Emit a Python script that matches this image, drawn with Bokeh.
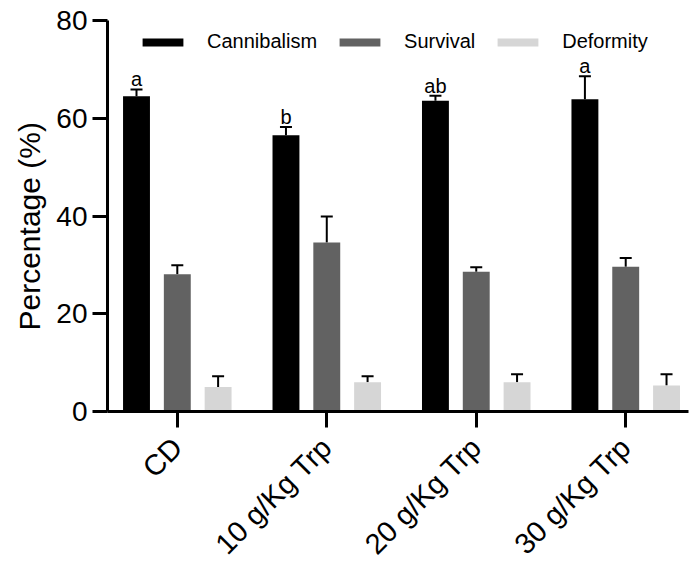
import math
from bokeh.plotting import figure
from bokeh.models import (ColumnDataSource, Range1d, FixedTicker, Whisker, TeeHead,
                          Legend, LegendItem, Title)
from bokeh.core.properties import value
from bokeh.embed import file_html
from bokeh.resources import INLINE

# Treatment groups and measured percentages (mean and upper SE)
groups = ["CD", "10 g/Kg Trp", "20 g/Kg Trp", "30 g/Kg Trp"]
series = ["Cannibalism", "Survival", "Deformity"]
cannibalism = [64.5, 56.5, 63.6, 63.9]
cannibalism_err = [1.4, 1.7, 1.0, 4.7]
survival = [28.1, 34.6, 28.6, 29.6]
survival_err = [1.8, 5.3, 0.9, 1.8]
deformity = [5.0, 6.0, 6.0, 5.3]
deformity_err = [2.2, 1.2, 1.6, 2.3]
cannibalism_letters = ["a", "b", "ab", "a"]
y_ticks = [0, 20, 40, 60, 80]

colors = ["#000000", "#626262", "#d6d6d6"]
FONT = "Liberation Sans"
bar_w = 0.18
offsets = [-0.273, 0.0, 0.273]

p = figure(frame_width=581, frame_height=391, output_backend="svg",
           toolbar_location=None,
           x_range=Range1d(-0.467, 3.42), y_range=Range1d(0, 80),
           min_border_left=107, min_border_right=2, min_border_top=20,
           min_border_bottom=155)
p.outline_line_color = None
p.xgrid.visible = False
p.ygrid.visible = False
p.background_fill_color = "white"
p.border_fill_color = "white"

means = [cannibalism, survival, deformity]
errs = [cannibalism_err, survival_err, deformity_err]
legend_items = []
for k, name in enumerate(series):
    xs = [i + offsets[k] for i in range(len(groups))]
    src = ColumnDataSource(dict(
        x=xs, top=means[k],
        upper=[m + e for m, e in zip(means[k], errs[k])]))
    r = p.vbar(x="x", top="top", bottom=0, width=bar_w, source=src,
               fill_color=colors[k], line_color=None)
    legend_items.append(LegendItem(label=name, renderers=[r]))
    wh = Whisker(base="x", lower="top", upper="upper", source=src,
                 line_color="black", line_width=2,
                 upper_head=TeeHead(size=12, line_color="black", line_width=2),
                 lower_head=None, level="underlay")
    p.add_layout(wh)
    if k == 0:
        # significance letters above the cannibalism error bars
        lsrc = ColumnDataSource(dict(x=xs, y=src.data["upper"], t=cannibalism_letters))
        p.text(x="x", y="y", text="t", source=lsrc, text_align="center",
               text_baseline="alphabetic", y_offset=-10,
               text_font=value(FONT), text_font_size="20px", text_color="black")

# Axes
for ax in (p.xaxis[0], p.yaxis[0]):
    ax.axis_line_width = 3
    ax.axis_line_color = "black"
    ax.major_tick_line_width = 3
    ax.major_tick_line_color = "black"
    ax.major_tick_in = 0
    ax.minor_tick_line_color = None
    ax.major_label_text_font = FONT
    ax.major_label_text_color = "black"

p.yaxis.ticker = FixedTicker(ticks=y_ticks)
p.yaxis.major_tick_out = 15
p.yaxis.major_label_text_font_size = "28px"
p.yaxis.major_label_standoff = 5

p.xaxis.ticker = FixedTicker(ticks=list(range(len(groups))))
p.xaxis.major_label_overrides = {i: g for i, g in enumerate(groups)}
p.xaxis.major_tick_out = 16
p.xaxis.major_label_orientation = math.pi / 4
p.xaxis.major_label_text_font_size = "29px"
p.xaxis.major_label_standoff = 15

# Y axis title, starting a little above the baseline
p.add_layout(Title(text="Percentage (%)", align="left", offset=81,
                   text_font=FONT, text_font_size="30px",
                   text_font_style="normal", text_color="black",
                   standoff=16), "left")

legend = Legend(items=legend_items, orientation="horizontal", location=(30, 358),
                glyph_width=51, glyph_height=10, label_standoff=19, spacing=17,
                padding=0, margin=0, border_line_color=None,
                background_fill_alpha=0, label_text_font=FONT,
                label_text_font_size="20px", label_text_color="black")
p.add_layout(legend)

open("out.html", "w").write(file_html(p, INLINE))
